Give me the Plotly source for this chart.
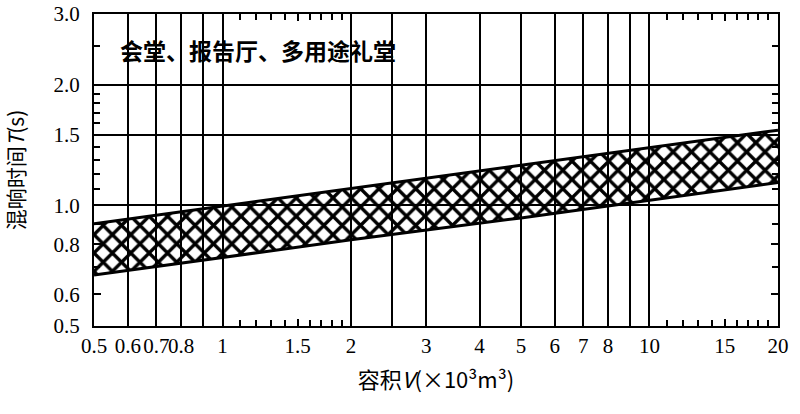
import math
import plotly.graph_objects as go

# Data
volume = [0.5, 1, 2, 5, 10, 20]            # V (x10^3 m^3)
t_upper = [0.90, 0.995, 1.10, 1.26, 1.39, 1.54]  # upper bound T (s)
t_lower = [0.67, 0.74, 0.82, 0.93, 1.03, 1.14]   # lower bound T (s)

x_tick_vals = [0.5, 0.6, 0.7, 0.8, 1, 1.5, 2, 3, 4, 5, 6, 7, 8, 10, 15, 20]
x_tick_text = ["0.5", "0.6", "0.7", "0.8", "1", "1.5", "2", "3", "4", "5", "6", "7", "8", "10", "15", "20"]
x_grid_vals = [0.6, 0.7, 0.8, 0.9, 1, 2, 2.5, 3, 4, 5, 6, 7, 8, 9, 10]
x_minor_vals = [1.1, 1.2, 1.3, 1.4, 1.6, 1.7, 1.8, 1.9, 11, 12, 13, 14, 16, 17, 18, 19]

y_tick_vals = [0.5, 0.6, 0.8, 1.0, 1.5, 2.0, 3.0]
y_tick_text = ["0.5", "0.6", "0.8", "1.0", "1.5", "2.0", "3.0"]
y_grid_vals = [1.0, 1.5, 2.0]
y_minor_vals = [0.7, 0.9, 1.1, 1.2, 1.3, 1.4, 1.6, 1.7, 1.8, 1.9, 2.5]

title_text = "会堂、报告厅、多用途礼堂"
x_title = "容积<i>V</i>(×10³m³)"
y_title = "混响时间<i>T</i>(s)"

serif = "Liberation Serif"
cjk = "Noto Sans CJK SC"

fig = go.Figure()
# invisible trace that carries the overlay axes used for the grid lines
fig.add_trace(go.Scatter(
    x=volume, y=t_upper, mode="lines", xaxis="x2", yaxis="y2",
    line=dict(color="rgba(0,0,0,0)", width=0), showlegend=False, hoverinfo="skip"))
fig.add_trace(go.Scatter(
    x=volume, y=t_upper, mode="lines",
    line=dict(color="black", width=3), showlegend=False, hoverinfo="skip"))
fig.add_trace(go.Scatter(
    x=volume, y=t_lower, mode="lines", fill="tonexty",
    fillcolor="rgba(0,0,0,0)",
    fillpattern=dict(shape="x", size=13, solidity=0.45, fgopacity=1,
                     fgcolor="black", bgcolor="rgba(0,0,0,0)"),
    line=dict(color="black", width=3), showlegend=False, hoverinfo="skip"))

xr = [math.log10(0.5), math.log10(20)]
yr = [math.log10(0.5), math.log10(3.0)]

fig.update_layout(
    template="none",
    width=800, height=414,
    margin=dict(l=94, r=22, t=14, b=88),
    paper_bgcolor="white", plot_bgcolor="white",
    xaxis=dict(
        type="log", range=xr, tickmode="array", automargin=False,
        tickvals=x_tick_vals, ticktext=x_tick_text, tickangle=0,
        ticks="inside", ticklen=7, tickwidth=1.5, tickcolor="black",
        showgrid=False, zeroline=False,
        showline=True, linewidth=2, linecolor="black", mirror="ticks",
        ticklabelstandoff=0, ticklabeloverflow="allow",
        tickfont=dict(family=serif, size=21, color="black"),
        minor=dict(tickmode="array", tickvals=x_minor_vals, ticks="inside",
                   ticklen=6, tickwidth=1.5, tickcolor="black", showgrid=False),
        title=dict(text=x_title, standoff=15,
                   font=dict(family=cjk + ", " + serif, size=22, color="black")),
    ),
    xaxis2=dict(
        type="log", range=xr, overlaying="x", side="bottom", automargin=False,
        tickmode="array", tickvals=x_grid_vals, showticklabels=False,
        ticks="", showgrid=True, gridcolor="black", gridwidth=1.5,
        zeroline=False, showline=False,
    ),
    yaxis=dict(
        type="log", range=yr, tickmode="array", automargin=False,
        tickvals=y_tick_vals, ticktext=y_tick_text,
        ticks="inside", ticklen=7, tickwidth=1.5, tickcolor="black",
        showgrid=False, zeroline=False,
        showline=True, linewidth=2, linecolor="black", mirror="ticks",
        ticklabelstandoff=8, ticklabeloverflow="allow",
        tickfont=dict(family=serif, size=21, color="black"),
        minor=dict(tickmode="array", tickvals=y_minor_vals, ticks="inside",
                   ticklen=6, tickwidth=1.5, tickcolor="black", showgrid=False),
        title=dict(text=y_title, standoff=32,
                   font=dict(family=cjk + ", " + serif, size=21, color="black")),
    ),
    yaxis2=dict(
        type="log", range=yr, overlaying="y", side="left", automargin=False,
        tickmode="array", tickvals=y_grid_vals, showticklabels=False,
        ticks="", showgrid=True, gridcolor="black", gridwidth=1.5,
        zeroline=False, showline=False,
    ),
    annotations=[dict(
        text="<b>" + title_text + "</b>", xref="paper", yref="paper",
        x=0.035, y=0.885, xanchor="left", yanchor="middle", showarrow=False,
        font=dict(family=cjk, size=23, color="black"))],
)

fig.write_html("out.html", config={"displayModeBar": False},
               post_script="document.body.style.margin='0';")
